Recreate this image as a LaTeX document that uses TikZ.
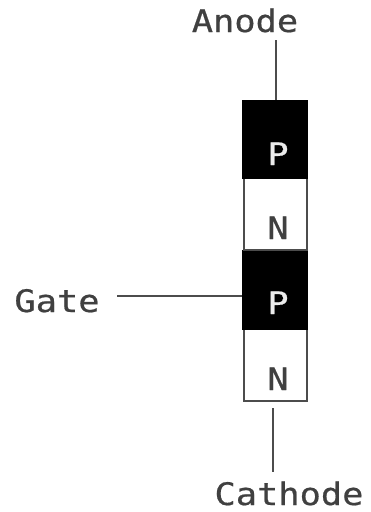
\documentclass[tikz,border=0pt]{standalone}
\usepackage{fontspec}
\setmainfont[FakeStretch=1.14,FakeBold=0.6]{DejaVu Sans Mono}
\begin{document}
\begin{tikzpicture}[x=1pt,y=-1pt,
 txt/.style={inner sep=0pt,anchor=base,font=\fontsize{31}{33}\selectfont},
 lbl/.style={txt,text=black!75},
 blk/.style={draw=black,fill=black,line width=1.2pt,inner sep=0pt,minimum width=64pt},
 wht/.style={draw=black!70,fill=white,line width=2pt,inner sep=0pt,minimum width=63pt},
 wire/.style={draw=black!70,line width=2pt}]
\useasboundingbox (0,0) rectangle (370,512);
\path[fill=white] (0,0) rectangle (370,512);
\node[wht,minimum height=72pt] (n2) at (275,365) {};
\node[blk,minimum height=78pt] (p2) at (275,290) {};
\node[wht,minimum height=72pt] (n1) at (275,214) {};
\node[blk,minimum height=77pt] (p1) at (275,139.5) {};
\node[txt,text=white!92!black] (tp1) at (278,165) {P};
\node[lbl] (tn1) at (278,239) {N};
\node[txt,text=white!92!black] (tp2) at (278,314) {P};
\node[lbl] (tn2) at (278,390) {N};
\node[lbl] (anode) at (245,32) {Anode};
\node[lbl] (gate) at (57,312) {Gate};
\node[lbl] (cathode) at (289,505) {Cathode};
\coordinate (a1) at (276,40);
\coordinate (g1) at (117,296);
\coordinate (c1) at (273,472);
\coordinate (c0) at (273,408);
\draw[wire] (a1) -- (a1 |- p1.north);
\draw[wire] (g1) -- (g1 -| p2.west);
\draw[wire] (c0) -- (c1);
\end{tikzpicture}
\end{document}
